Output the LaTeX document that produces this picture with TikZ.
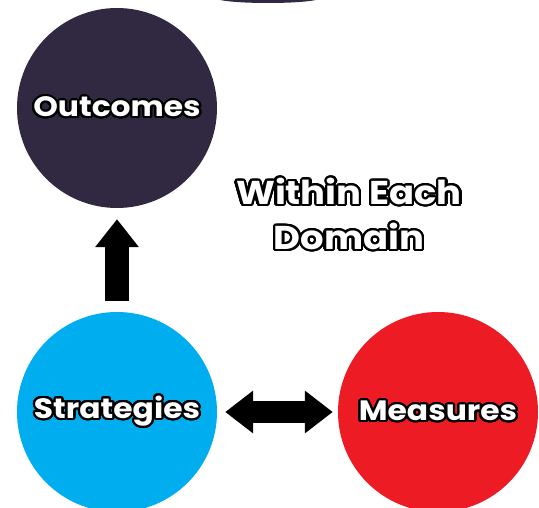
\documentclass[tikz,border=0pt]{standalone}
\usepackage{fontspec}
\setmainfont{Poppins}
\usepackage{contour}
\contourlength{2pt}
\contournumber{32}
\usetikzlibrary{arrows.meta}
\definecolor{outcol}{HTML}{312842}
\definecolor{stratcol}{HTML}{00AEEF}
\definecolor{meascol}{HTML}{ED1C24}
\newcommand{\outl}[1]{\scalebox{1.12}[1]{\contour{black}{#1}}}

\begin{document}
\begin{tikzpicture}[x=1pt,y=-1pt,
    areanode/.style={circle,minimum size=200pt,inner sep=0pt,text=white,
      font=\fontsize{28}{30}\selectfont\bfseries},
    blockarrow/.style={line width=24pt,-{Triangle[length=28pt,width=42pt]}},
    blockboth/.style={line width=22pt,{Triangle[length=28pt,width=41pt]}-{Triangle[length=28pt,width=41pt]}}]
      \useasboundingbox (0,0) rectangle (539,508);
      \clip (0,0) rectangle (539,508);
      % Cut-off circle at the top
      \fill[outcol] (268,-2) ellipse [x radius=52pt,y radius=5pt];
      % Domains
      \node[areanode,fill=outcol] (out) at (117,108) {\outl{Outcomes}};
      \node[areanode,fill=stratcol] (strat) at (117,412) {\outl{Strategies}};
      \node[areanode,fill=meascol] (meas) at (438,412) {\outl{Measures}};
      % Title
      \node[text=white,align=center,font=\fontsize{33}{45}\selectfont\bfseries] (title) at (349,215)
        {\outl{Within Each}\\\outl{Domain}};
      % Arrows
      \draw[blockarrow,shorten <=11pt,shorten >=11pt] (strat) -- (out);
      \draw[blockboth,shorten <=8pt,shorten >=5pt] (strat) -- (meas);
    \end{tikzpicture}
\end{document}
